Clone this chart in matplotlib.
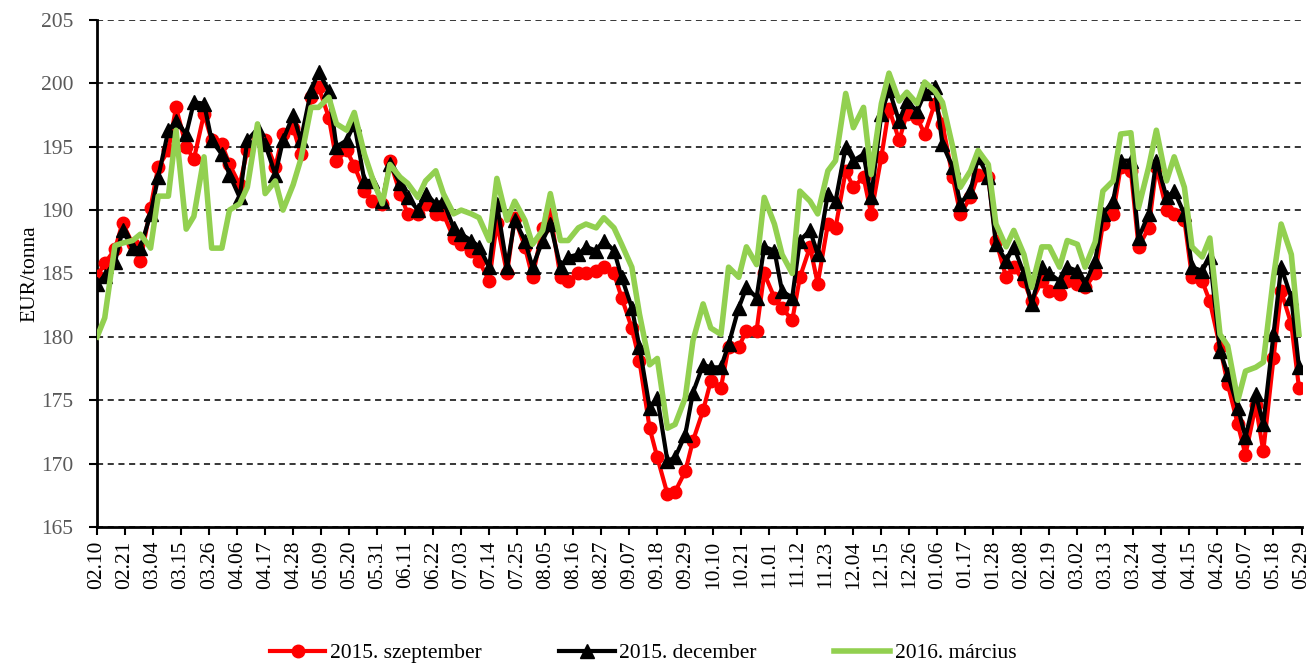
import numpy as np
import pandas as pd
import matplotlib
matplotlib.use("Agg")
import matplotlib.pyplot as plt
import matplotlib.dates as mdates

plt.rcParams['font.family'] = ['Liberation Serif', 'DejaVu Serif']

# két pont hetente (hétfő, csütörtök), 2014.02.10 - 2015.05.28
hetek = pd.date_range('2014-02-10', periods=68, freq='7D')
datumok = []
for h in hetek:
    datumok.append(h)
    datumok.append(h + pd.Timedelta(days=3))

szept_2015 = [
    184.8, 185.8, 186.9, 189.0, 187.3, 186.0, 190.2, 193.4, 194.7, 198.1,
    195.0, 194.0, 197.6, 195.5, 195.2, 193.6, 192.0, 194.7, 195.7, 195.5,
    193.4, 196.0, 196.5, 194.4, 198.9, 199.7, 197.3, 193.9, 194.7, 193.5,
    191.5, 190.7, 190.5, 193.9, 191.3, 189.7, 189.7, 190.5, 189.7, 189.7,
    187.8, 187.3, 186.8, 186.0, 184.4, 189.0, 185.0, 189.4, 187.1, 184.7,
    188.6, 189.7, 184.7, 184.4, 185.0, 185.0, 185.2, 185.5, 185.0, 183.1,
    180.7, 178.1, 172.8, 170.5, 167.6, 167.8, 169.4, 171.8, 174.2, 176.5,
    176.0, 179.2, 179.2, 180.5, 180.5, 185.0, 183.1, 182.3, 181.3, 184.7,
    187.1, 184.2, 188.9, 188.6, 193.1, 191.8, 192.6, 189.7, 194.2, 198.0,
    195.5, 197.6, 197.3, 196.0, 198.4, 196.8, 192.6, 189.7, 191.0, 192.8,
    192.6, 187.6, 184.7, 185.5, 184.4, 182.8, 184.4, 183.6, 183.4, 184.4,
    184.2, 183.9, 185.0, 188.9, 189.7, 193.4, 193.1, 187.1, 188.6, 193.4,
    190.0, 189.7, 189.2, 184.7, 184.4, 182.8, 179.2, 176.3, 173.1, 170.7,
    174.6, 171.0, 178.3, 183.6, 181.0, 176.0,
]

dec_2015 = [
    184.2, 184.8, 185.9, 188.4, 187.0, 187.0, 189.7, 192.6, 196.3, 197.0,
    196.0, 198.5, 198.4, 195.5, 194.4, 192.8, 191.0, 195.5, 196.4, 195.2,
    192.8, 195.5, 197.5, 195.5, 199.4, 200.9, 199.4, 195.0, 195.5, 196.8,
    192.3, 192.3, 190.7, 193.6, 192.1, 191.0, 190.0, 191.3, 190.5, 190.7,
    188.6, 188.1, 187.6, 187.1, 185.5, 190.5, 185.5, 189.2, 187.6, 185.5,
    187.6, 188.9, 185.5, 186.3, 186.5, 187.1, 186.8, 187.6, 186.8, 184.7,
    182.3, 179.2, 174.4, 175.2, 170.2, 170.5, 172.3, 175.6, 177.8, 177.6,
    177.6, 179.4, 182.3, 183.9, 183.1, 187.1, 186.8, 183.6, 183.1, 187.6,
    188.4, 186.5, 191.3, 190.7, 195.0, 193.9, 194.4, 191.0, 197.6, 199.5,
    197.0, 198.6, 197.8, 199.2, 199.7, 195.2, 193.4, 190.5, 191.5, 194.2,
    192.6, 187.3, 186.0, 187.1, 185.0, 182.6, 185.5, 185.0, 184.4, 185.5,
    185.2, 184.2, 186.0, 189.7, 190.7, 193.9, 193.9, 187.8, 189.7, 193.9,
    191.0, 191.5, 189.7, 185.5, 185.2, 186.3, 178.9, 177.1, 174.4, 172.1,
    175.5, 173.1, 180.2, 185.5, 183.1, 177.6,
]

marc_2016 = [
    180.0, 181.5, 187.2, 187.4, 187.6, 188.1, 187.0, 191.1, 191.1, 196.3,
    188.5, 189.5, 194.2, 187.0, 187.0, 190.0, 190.5, 191.8, 196.8, 191.3,
    192.3, 190.0, 192.0, 194.0, 198.1, 198.1, 198.9, 196.8, 196.3, 197.7,
    194.4, 192.6, 190.5, 193.6, 192.6, 192.1, 191.0, 192.3, 193.1, 191.3,
    189.7, 190.0, 189.7, 189.4, 187.6, 192.5, 189.2, 190.7, 189.2, 187.3,
    188.4, 191.3, 187.6, 187.6, 188.6, 188.9, 188.6, 189.4, 188.6, 187.3,
    185.5, 181.8, 177.8, 178.3, 172.8, 173.1, 175.2, 179.7, 182.6, 180.7,
    180.2, 185.5, 184.7, 187.1, 185.7, 191.0, 188.9, 186.5, 185.0, 191.5,
    190.7, 189.7, 193.1, 193.9, 199.2, 196.5, 198.1, 192.8, 198.4, 200.8,
    198.6, 199.3, 198.4, 200.1, 199.4, 198.5, 195.0, 191.8, 193.1, 194.7,
    193.6, 188.9, 187.1, 188.4, 186.5, 183.9, 187.1, 187.1, 185.5, 187.6,
    187.3, 185.5, 187.5, 191.5, 192.3, 196.0, 196.1, 190.2, 193.4, 196.3,
    192.3, 194.2, 191.8, 187.1, 186.3, 187.8, 180.2, 179.3, 175.0, 177.3,
    177.6, 178.0, 184.7, 188.9, 186.5, 180.2,
]

fig = plt.figure(figsize=(13.12, 6.63), dpi=100)
ax = fig.add_axes([0.074, 0.205, 0.918, 0.765])

ax.plot(datumok, szept_2015, color='#FF0000', lw=3, marker='o', ms=9,
        label='2015. szeptember', zorder=3)
ax.plot(datumok, dec_2015, color='black', lw=3, marker='^', ms=9.5,
        label='2015. december', zorder=4)
ax.plot(datumok, marc_2016, color='#92D050', lw=4,
        label='2016. március', zorder=5)

ax.set_ylim(165, 205)
ax.set_yticks(np.arange(165, 206, 5))
ax.set_xlim(pd.Timestamp('2014-02-10'), pd.Timestamp('2015-05-29'))
ax.set_xticks(pd.date_range('2014-02-10', '2015-05-29', freq='11D'))
ax.xaxis.set_major_formatter(mdates.DateFormatter('%m.%d'))
ax.tick_params(axis='x', labelrotation=90, labelsize=15.5, length=6, width=1.5,
               direction='out')
ax.tick_params(axis='y', labelsize=15.5, length=6, width=1.5, pad=11,
               direction='out', labelcolor='#595959')

ax.grid(axis='y', ls=(0, (4, 3)), color='black', lw=1.1)
ax.set_axisbelow(True)
for s in ['top', 'right']:
    ax.spines[s].set_visible(False)
ax.spines['left'].set_linewidth(2)
ax.spines['bottom'].set_linewidth(2)

ax.set_ylabel('EUR/tonna', fontsize=15.5, labelpad=1)

fig.legend(loc='center', bbox_to_anchor=(0.49, 0.015), ncol=3, frameon=False,
           fontsize=15.5, handlelength=2.6, columnspacing=3.6, handletextpad=0.2)

fig.savefig('out.png', dpi=100)
